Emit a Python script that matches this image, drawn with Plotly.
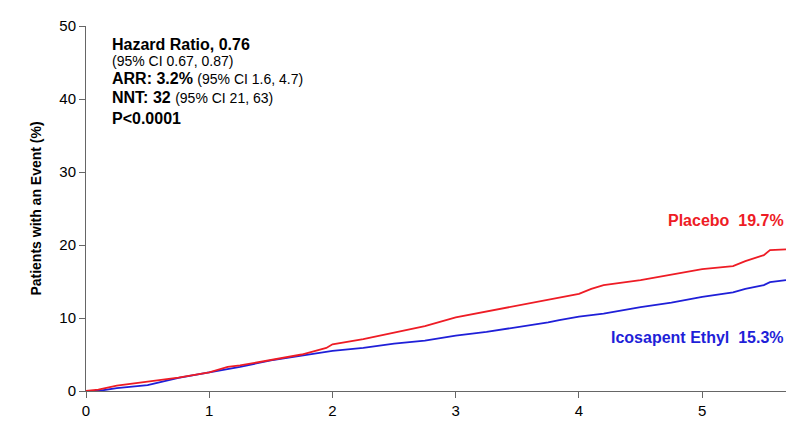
import plotly.graph_objects as go

# 読み取った累積イベント率 (%)
years = [0, 0.1, 0.25, 0.5, 0.75, 1.0, 1.15, 1.25, 1.5, 1.75, 1.95, 2.0, 2.25, 2.5,
         2.75, 3.0, 3.25, 3.5, 3.75, 3.84, 4.0, 4.1, 4.2, 4.5, 4.75, 5.0, 5.25,
         5.35, 5.5, 5.55, 5.68]
placebo = [0, 0.2, 0.73, 1.28, 1.83, 2.56, 3.3, 3.5, 4.3, 5.0, 5.9, 6.4, 7.1, 8.0,
           8.9, 10.1, 10.9, 11.7, 12.5, 12.8, 13.3, 14.0, 14.5, 15.2, 15.9, 16.7, 17.1,
           17.8, 18.6, 19.3, 19.4]
icosapent = [0, 0.0, 0.4, 0.8, 1.8, 2.5, 3.0, 3.3, 4.2, 4.8, 5.3, 5.5, 5.9, 6.5,
             6.9, 7.6, 8.1, 8.7, 9.4, 9.7, 10.2, 10.4, 10.6, 11.5, 12.1, 12.9, 13.5,
             14.0, 14.5, 14.9, 15.2]

red = "#ee1c25"
blue = "#1f1fd8"

W, H = 787, 423
L, T, B, R = 86, 26, 391, 786  # プロット領域 (px)

fig = go.Figure()
fig.add_trace(go.Scatter(x=years, y=icosapent, mode="lines",
                         line=dict(color=blue, width=1.8), showlegend=False))
fig.add_trace(go.Scatter(x=years, y=placebo, mode="lines",
                         line=dict(color=red, width=1.8), showlegend=False))


def py(ypix):
    return (B - ypix) / (B - T)


# 統計情報の注記
stats = [
    ("<b>Hazard Ratio, 0.76</b>", 16, 44),
    ("(95% CI 0.67, 0.87)", 14, 61),
    ("<b>ARR: 3.2%</b> <span style='font-size:14px'>(95% CI 1.6, 4.7)</span>", 16, 79),
    ("<b>NNT: 32</b> <span style='font-size:14px'>(95% CI 21, 63)</span>", 16, 98),
    ("<b>P<0.0001</b>", 16, 119),
]
for txt, size, ypix in stats:
    fig.add_annotation(text=txt, xref="paper", yref="paper", x=(110 - L) / (R - L),
                       y=py(ypix), xanchor="left", yanchor="middle",
                       showarrow=False, font=dict(size=size, color="black"))

fig.add_annotation(text="<b>Placebo  19.7%</b>", xref="paper", yref="paper", x=1.0,
                   y=py(220), xanchor="right", yanchor="middle",
                   showarrow=False, font=dict(size=16, color=red))
fig.add_annotation(text="<b>Icosapent Ethyl  15.3%</b>", xref="paper", yref="paper", x=1.0,
                   y=py(337), xanchor="right", yanchor="middle",
                   showarrow=False, font=dict(size=16, color=blue))

fig.update_layout(
    width=W, height=H,
    margin=dict(l=L, r=W - R, t=T, b=H - B),
    plot_bgcolor="white", paper_bgcolor="white",
    font=dict(family="Liberation Sans, Arial, sans-serif", size=15, color="black"),
    xaxis=dict(range=[0, 5.68], tickvals=[0, 1, 2, 3, 4, 5], showgrid=False,
               zeroline=False, showline=True, linecolor="#666", linewidth=1,
               ticks="outside", ticklen=6, tickcolor="#666"),
    yaxis=dict(range=[0, 50], tickvals=[0, 10, 20, 30, 40, 50], showgrid=False,
               zeroline=False, showline=True, linecolor="#666", linewidth=1,
               ticks="outside", ticklen=6, tickcolor="#666",
               title=dict(text="<b>Patients with an Event (%)</b>", standoff=14,
                          font=dict(size=14))),
)

# ページ本体の余白を消す
fig.write_html("out.html", config={"displayModeBar": False},
               post_script="document.body.style.margin='0';document.body.style.overflow='hidden';")
